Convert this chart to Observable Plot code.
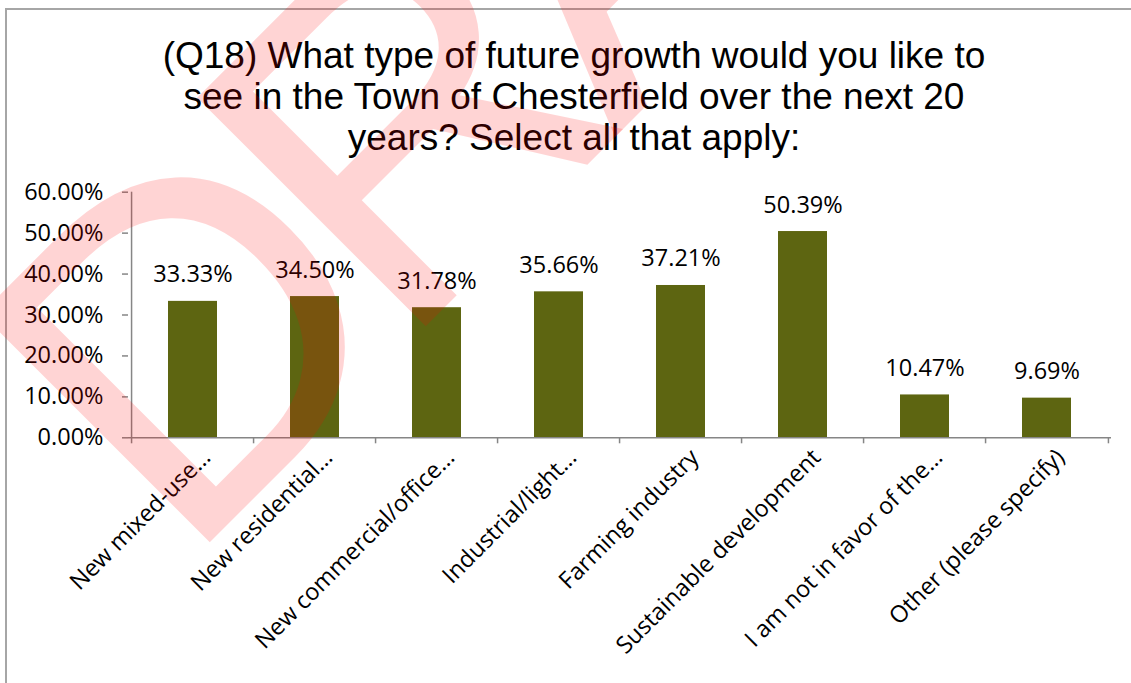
<!DOCTYPE html>
<html><head><meta charset="utf-8">
<script src="https://cdn.jsdelivr.net/npm/d3@7"></script>
<script src="https://cdn.jsdelivr.net/npm/@observablehq/plot@0.6"></script>
<style>
body{margin:0;background:#fff;}
#wrap{position:relative;width:1131px;height:683px;overflow:hidden;background:#fff;}
#frame{position:absolute;left:5px;top:8px;right:-10px;bottom:-10px;border-top:2px solid #a6a6a6;border-left:2px solid #a6a6a6;}
#title{position:absolute;left:0;top:35px;width:1148px;text-align:center;font-family:"Liberation Sans",Arial,sans-serif;font-size:37px;line-height:41px;color:#000;}
#chart{position:absolute;left:0;top:0;}
#chart svg{background:transparent;}
#chart text.wm, #chart .wm text{letter-spacing:-34px;}
</style></head><body>
<div id="wrap"><div id="frame"></div><div id="title">(Q18) What type of future growth would you like to<br>see in the Town of Chesterfield over the next 20<br>years? Select all that apply:</div><div id="chart"></div></div>
<script>
const categories = ["New mixed-use…","New residential…","New commercial/office…","Industrial/light…","Farming industry","Sustainable development","I am not in favor of the…","Other (please specify)"];
const values = [0.3333,0.3450,0.3178,0.3566,0.3721,0.5039,0.1047,0.0969];
const yTicks = [0,0.1,0.2,0.3,0.4,0.5,0.6];
const watermark = ["DRAFT"];

const data = categories.map((c,i)=>({category:c,value:values[i]}));
const W=1131,H=683,mL=128,mR=20;
const step=(W-mL-mR)/categories.length;
const font='"Open Sans", sans-serif';
const axisGray="#868686";
const pct=d=>(d*100).toFixed(2)+"%";

const plot=Plot.plot({
  width:W,height:H,marginLeft:mL,marginRight:mR,marginTop:191.7,marginBottom:245.7,
  style:{background:"transparent",fontFamily:font,overflow:"visible"},
  x:{domain:categories,paddingInner:0.6,paddingOuter:0.3,axis:null},
  y:{domain:[0,0.6],axis:null},
  marks:[
    Plot.barY(data,{x:"category",y:"value",fill:"#5d6511"}),
    Plot.ruleY([0],{stroke:axisGray,strokeWidth:1.5}),
    Plot.ruleX([categories[0]],{dx:-step/2,y1:0,y2:0.6,stroke:axisGray,strokeWidth:1.5}),
    Plot.ruleX(categories,{x:d=>d,dx:-step/2,y1:0,y2:0,insetBottom:-6,stroke:axisGray,strokeWidth:1.5}),
    Plot.ruleX([categories[categories.length-1]],{x:d=>d,dx:step/2,y1:0,y2:0,insetBottom:-6,stroke:axisGray,strokeWidth:1.5}),
    Plot.axisY({ticks:yTicks,label:null,tickSize:6,tickPadding:19,tickFormat:pct,stroke:axisGray,strokeWidth:1.5,fill:"#000",fontSize:23.5,fontFamily:font}),
    Plot.text(data,{x:"category",y:"value",text:d=>pct(d.value),dy:-19,lineAnchor:"bottom",fontSize:23.5,fontFamily:font,fill:"#000"}),
    Plot.text(data,{x:"category",y:()=>0,text:"category",rotate:-45,textAnchor:"end",lineAnchor:"bottom",dx:19,dy:21,fontSize:23.5,fontFamily:font,fill:"#000"}),
    Plot.text(watermark,{text:d=>d,frameAnchor:"top-left",dx:54,dy:377.3,rotate:-45,textAnchor:"start",lineAnchor:"bottom",fontSize:470,fontFamily:"Liberation Sans",fill:"red",fillOpacity:0.17,className:"wm"})
  ]
});
document.getElementById("chart").appendChild(plot);
</script>
</body></html>
